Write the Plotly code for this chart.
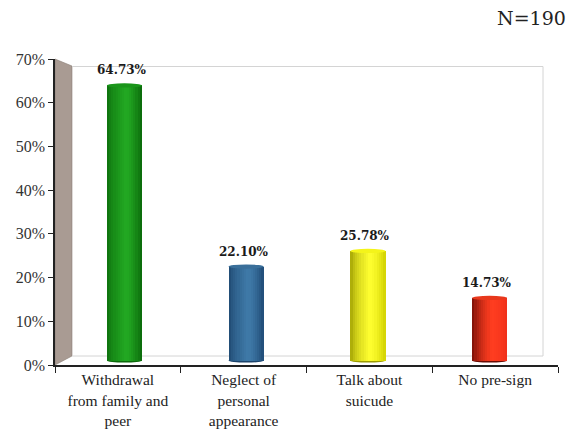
import plotly.graph_objects as go

categories = ["Withdrawal<br>from family and<br>peer", "Neglect of<br>personal<br>appearance",
              "Talk about<br>suicude", "No pre-sign"]
values = [64.73, 22.10, 25.78, 14.73]
value_labels = ["64.73%", "22.10%", "25.78%", "14.73%"]
y_ticks = [0, 10, 20, 30, 40, 50, 60, 70]
y_tick_labels = ["0%", "10%", "20%", "30%", "40%", "50%", "60%", "70%"]
note = "N=190"

SERIF = "Liberation Serif, Times New Roman, Times, serif"

# cylinder shading stops per bar: (left edge, highlight, right edge, cap)
shades = [
    ("#0b6a0b", "#22a822", "#0a680a", "#1a951a"),
    ("#1c446c", "#3f7aa8", "#204c77", "#3a6f9a"),
    ("#9c9c00", "#ffff30", "#d2d200", "#f4f41a"),
    ("#6a0b04", "#ff3d20", "#f0301a", "#e8381c"),
]

W, H = 579, 432
L, R, T, B = 55, 21, 59, 67
pw, ph = W - L - R, H - T - B


def hex2rgb(h):
    h = h.lstrip("#")
    return [int(h[i:i + 2], 16) for i in (0, 2, 4)]


def mix(a, b, t):
    ra, rb = hex2rgb(a), hex2rgb(b)
    return "rgb(%d,%d,%d)" % tuple(round(ra[k] + (rb[k] - ra[k]) * t) for k in range(3))


def shade(stops, t):
    left, hi, right, _ = stops
    p = 0.55
    if t < p:
        return mix(left, hi, (t / p) ** 0.6)
    return mix(hi, right, ((t - p) / (1 - p)) ** 1.4)


fig = go.Figure()

# visible axes (category labels + percent ticks)
fig.add_trace(go.Scatter(x=categories, y=[None] * len(categories), xaxis="x", yaxis="y",
                         showlegend=False, hoverinfo="skip"))

bar_w = 0.2875
N = 16
for i in range(N):
    t = (i + 0.5) / N
    fig.add_trace(go.Bar(
        x=categories, y=values, xaxis="x2", yaxis="y2",
        width=bar_w / N + 0.002, offset=-bar_w / 2 + i * bar_w / N,
        marker=dict(color=[shade(s, t) for s in shades], line=dict(width=0)),
        showlegend=False, hoverinfo="skip"))

shapes = []


def px(x):
    return (x - L) / pw


def py(y):
    return (H - B - y) / ph


# 3D walls (paper coords)
shapes.append(dict(type="path", xref="paper", yref="paper",
                   path="M %f,%f L %f,%f L %f,%f L %f,%f Z" % (px(55), py(59), px(72), py(66), px(72), py(356), px(55), py(365)),
                   fillcolor="#a99b93", line=dict(color="#8a7d76", width=0.6), layer="below"))
for (x0, y0, x1, y1) in [(72, 66.5, 543, 66.5), (543, 66.5, 543, 356), (72, 356, 543, 356)]:
    shapes.append(dict(type="line", xref="paper", yref="paper", x0=px(x0), y0=py(y0), x1=px(x1), y1=py(y1),
                       line=dict(color="#d4d4d4", width=1), layer="below"))

# cylinder caps
cap_h = 0.5
for k, v in enumerate(values):
    shapes.append(dict(type="circle", xref="x2", yref="y2", x0=k - bar_w / 2, x1=k + bar_w / 2,
                       y0=v - cap_h, y1=v + cap_h, fillcolor=shades[k][3], line=dict(width=0), layer="above"))
    shapes.append(dict(type="circle", xref="x2", yref="y2", x0=k - bar_w / 2, x1=k + bar_w / 2,
                       y0=-cap_h, y1=cap_h, fillcolor=shades[k][0], line=dict(width=0), layer="below"))

annotations = []
for k, (v, lab) in enumerate(zip(values, value_labels)):
    annotations.append(dict(x=k - 0.02, y=v, xref="x2", yref="y2", text="<b>%s</b>" % lab, showarrow=False,
                            yanchor="bottom", yshift=6,
                            font=dict(family="DejaVu Serif", size=12, color="#1a1a1a")))
annotations.append(dict(x=1, y=1, xref="paper", yref="paper", text=note, showarrow=False,
                        xanchor="right", yanchor="middle", xshift=10, yshift=T - 18,
                        font=dict(family="DejaVu Serif", size=19, color="#222222")))

fig.update_layout(
    width=W, height=H,
    margin=dict(l=L, r=R, t=T, b=B, autoexpand=False),
    paper_bgcolor="white", plot_bgcolor="white",
    barmode="overlay", bargap=0,
    shapes=shapes, annotations=annotations,
    xaxis=dict(type="category", range=[-0.5, 3.5], tickson="boundaries", ticks="outside", ticklen=6,
               tickcolor="#222", tickwidth=1, showline=True, linecolor="#222", linewidth=1.5,
               showgrid=False, zeroline=False, automargin=False,
               tickfont=dict(family=SERIF, size=15.5, color="#222")),
    yaxis=dict(range=[0, 70], tickmode="array", tickvals=y_ticks, ticktext=y_tick_labels,
               ticks="outside", ticklen=5, automargin=False,
               tickcolor="#222", showline=True, linecolor="#222", linewidth=1.5,
               showgrid=False, zeroline=False,
               tickfont=dict(family=SERIF, size=16, color="#333")),
    xaxis2=dict(type="category", overlaying="x", range=[-0.5698, 3.5616], visible=False),
    yaxis2=dict(overlaying="y", range=[-1.059, 70.94], visible=False),
)

fig.write_html("out.html")
